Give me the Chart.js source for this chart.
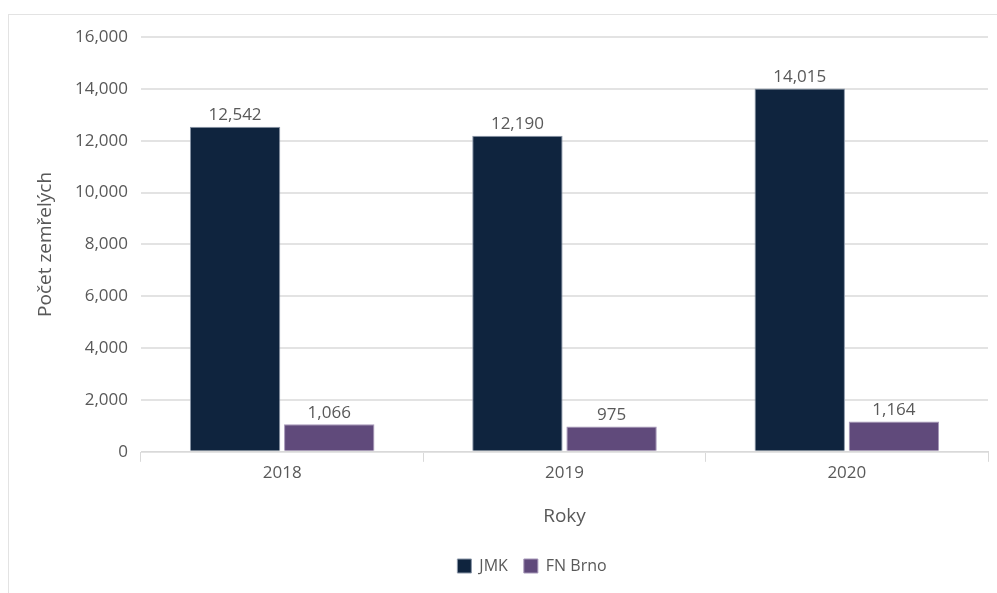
<!DOCTYPE html>
<html>
<head>
<meta charset="utf-8">
<script src="https://cdn.jsdelivr.net/npm/chart.js@4"></script>
<style>
  html, body { margin: 0; padding: 0; background: #fff; }
  #wrap { position: relative; width: 997px; height: 593px; overflow: hidden; }
  #frame { position: absolute; left: 8px; top: 14px; width: 1100px; height: 700px; border: 1px solid #e3e3e3; }
  #c { position: absolute; left: 0; top: 0; }
</style>
</head>
<body>
<div id="wrap">
  <div id="frame"></div>
  <canvas id="c" width="997" height="593"></canvas>
</div>
<script>
  // data
  var years  = ['2018', '2019', '2020'];
  var jmk    = [12542, 12190, 14015];
  var fnBrno = [1066, 975, 1164];
  var yTicks = [0, 2000, 4000, 6000, 8000, 10000, 12000, 14000, 16000];

  var TXT = '#595959';
  var FONT = "'Open Sans', sans-serif";

  function fmt(n) {
    return String(n).replace(/\B(?=(\d{3})+(?!\d))/g, ',');
  }

  // value labels above each bar
  var barLabels = {
    id: 'barLabels',
    afterDatasetsDraw: function (chart) {
      var ctx = chart.ctx;
      ctx.save();
      ctx.font = '17px ' + FONT;
      ctx.fillStyle = TXT;
      ctx.textAlign = 'center';
      ctx.textBaseline = 'bottom';
      chart.data.datasets.forEach(function (ds, i) {
        chart.getDatasetMeta(i).data.forEach(function (bar, j) {
          ctx.fillText(fmt(ds.data[j]), bar.x, bar.y - 3);
        });
      });
      ctx.restore();
    }
  };

  // nudge the legend a bit right, like the original
  var legendShift = {
    id: 'legendShift',
    afterLayout: function (chart) {
      var lg = chart.legend;
      if (!lg) return;
      lg.left += 23; lg.right += 23;
      if (lg.adjustHitBoxes) lg.adjustHitBoxes();
    }
  };

  new Chart(document.getElementById('c'), {
    type: 'bar',
    data: {
      labels: years,
      datasets: [
        { label: 'JMK', data: jmk, backgroundColor: '#0F243E', borderColor: '#8a96a8', borderWidth: 1,
          categoryPercentage: 0.667, barPercentage: 0.96 },
        { label: 'FN Brno', data: fnBrno, backgroundColor: '#604A7B', borderColor: '#a596b8', borderWidth: 1,
          categoryPercentage: 0.667, barPercentage: 0.96 }
      ]
    },
    options: {
      responsive: false,
      animation: false,
      devicePixelRatio: 1,
      layout: { padding: { left: 30, right: 9, top: 37, bottom: 9 } },
      plugins: {
        legend: {
          position: 'bottom',
          labels: { color: TXT, font: { family: FONT, size: 16 }, boxWidth: 14, boxHeight: 14, padding: 16 }
        },
        tooltip: { enabled: false }
      },
      scales: {
        x: {
          grid: { display: true, drawOnChartArea: false, offset: true, color: '#d9d9d9', tickLength: 10 },
          border: { color: '#d9d9d9' },
          ticks: { color: TXT, font: { family: FONT, size: 17 }, padding: 1 },
          title: { display: true, text: 'Roky', color: TXT, font: { family: FONT, size: 19 }, padding: { top: 21, bottom: 14 } }
        },
        y: {
          min: 0, max: 16000,
          afterBuildTicks: function (s) { s.ticks = yTicks.map(function (v) { return { value: v }; }); },
          afterFit: function (s) { s.width = 111; },
          grid: { color: '#e3e3e3', lineWidth: 2, drawTicks: false },
          border: { display: false },
          ticks: { color: TXT, font: { family: FONT, size: 17 }, padding: 13, callback: function (v) { return fmt(v); } },
          title: { display: true, text: 'Počet zemřelých', color: TXT, font: { family: FONT, size: 19 }, padding: 4 }
        }
      }
    },
    plugins: [barLabels, legendShift]
  });
</script>
</body>
</html>
